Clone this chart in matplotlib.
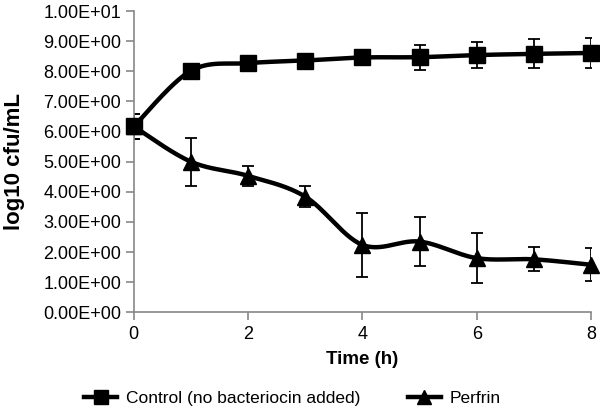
import numpy as np
import matplotlib
matplotlib.use("Agg")
import matplotlib.pyplot as plt
from matplotlib.ticker import FuncFormatter
from matplotlib.lines import Line2D

plt.rcParams['font.family'] = ['Liberation Sans', 'DejaVu Sans']

# данные
time_h = [0, 1, 2, 3, 4, 5, 6, 7, 8]
control = [6.17, 8.02, 8.27, 8.36, 8.46, 8.47, 8.54, 8.58, 8.61]
control_err = [0.4, 0.1, 0.1, 0.1, 0.1, 0.41, 0.43, 0.48, 0.5]
perfrin = [6.17, 5.0, 4.53, 3.84, 2.24, 2.35, 1.8, 1.76, 1.58]
perfrin_err = [0.4, 0.8, 0.32, 0.35, 1.05, 0.8, 0.83, 0.4, 0.55]
legend_labels = ['Control (no bacteriocin added)', 'Perfrin']


# сглаженная линия как в Excel (Безье через точки)
def smooth(x, y, n=30):
    x = np.asarray(x, float)
    y = np.asarray(y, float)
    xs, ys = [], []
    for i in range(len(x) - 1):
        p0 = np.array([x[max(i - 1, 0)], y[max(i - 1, 0)]])
        p1 = np.array([x[i], y[i]])
        p2 = np.array([x[i + 1], y[i + 1]])
        p3 = np.array([x[min(i + 2, len(x) - 1)], y[min(i + 2, len(x) - 1)]])
        c1 = p1 + (p2 - p0) / 6
        c2 = p2 - (p3 - p1) / 6
        t = np.linspace(0, 1, n)[:, None]
        b = (1 - t) ** 3 * p1 + 3 * (1 - t) ** 2 * t * c1 + 3 * (1 - t) * t ** 2 * c2 + t ** 3 * p2
        xs.extend(b[:, 0])
        ys.extend(b[:, 1])
    return xs, ys


fig = plt.figure(figsize=(6, 4.11), dpi=100)
ax = fig.add_axes([0.223, 0.24, 0.762, 0.733])

for vals, err, mk, ms in [(control, control_err, 's', 12), (perfrin, perfrin_err, '^', 12)]:
    ax.errorbar(time_h, vals, yerr=err, fmt='none', ecolor='black', elinewidth=1.3,
                capsize=4, capthick=1.3, zorder=2)
    sx, sy = smooth(time_h, vals)
    ax.plot(sx, sy, color='black', lw=3.2, zorder=3, clip_on=False)
    ax.plot(time_h, vals, ls='none', marker=mk, ms=ms, color='black', zorder=4, clip_on=False)

ax.set_xlim(0, 8)
ax.set_ylim(0, 10)
ax.set_xticks([0, 2, 4, 6, 8])
ax.set_yticks(np.arange(0, 11, 1))
ax.yaxis.set_major_formatter(FuncFormatter(lambda v, p: '%.2E' % v))

for s in ['top', 'right']:
    ax.spines[s].set_visible(False)
for s in ['left', 'bottom']:
    ax.spines[s].set_color('#888888')
    ax.spines[s].set_linewidth(1.2)
ax.tick_params(axis='both', direction='out', length=6, width=1.2, color='#888888',
               labelsize=13, labelcolor='black')
ax.tick_params(axis='y', pad=3)

ax.set_xlabel('Time (h)', fontsize=13.5, fontweight='bold', labelpad=6)
ax.set_ylabel('log10 cfu/mL', fontsize=16, fontweight='bold', labelpad=13)

handles = [Line2D([], [], color='black', lw=3.2, marker='s', ms=10),
           Line2D([], [], color='black', lw=3.2, marker='^', ms=10)]
fig.legend(handles, legend_labels, loc='center', bbox_to_anchor=(0.4875, 0.03), ncol=2,
           frameon=False, fontsize=12.5, handlelength=1.9, columnspacing=2.75,
           handletextpad=0.5)

fig.savefig('out.png', dpi=100)
